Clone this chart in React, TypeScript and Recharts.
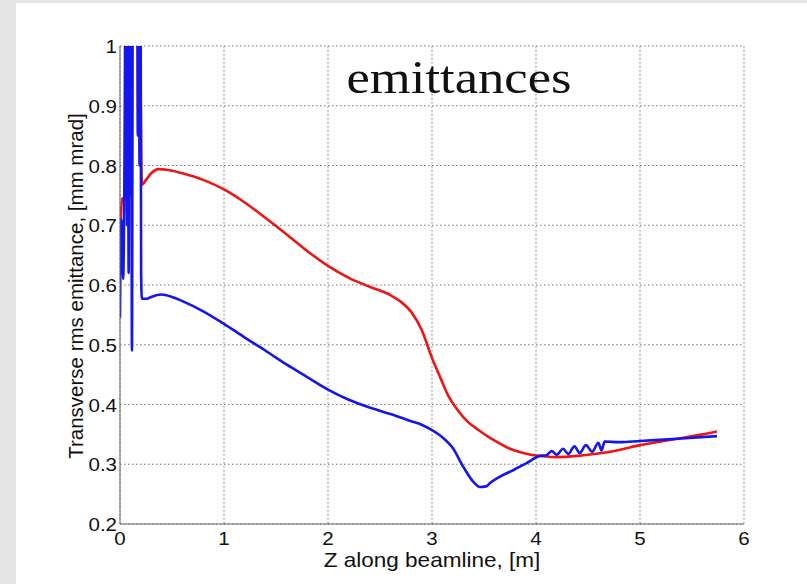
import React from "react";
import { LineChart, Line, XAxis, YAxis, CartesianGrid } from "recharts";

const redZ = [0, 0.01, 0.02, 0.04, 0.05, 0.065, 0.08, 0.095, 0.105, 0.115, 0.165, 0.175, 0.185, 0.2, 0.21, 0.25, 0.3, 0.37, 0.45, 0.6, 0.8, 1.0, 1.2, 1.4, 1.6, 1.8, 2.0, 2.2, 2.4, 2.6, 2.7, 2.8, 2.9, 3.0, 3.08, 3.15, 3.25, 3.35, 3.45, 3.55, 3.65, 3.75, 3.85, 3.95, 4.05, 4.2, 4.4, 4.6, 4.8, 5.0, 5.2, 5.4, 5.6, 5.74];
const redE = [0.655, 0.72, 0.745, 0.745, 0.8, 1.3, 0.86, 1.3, 0.87, 1.3, 1.3, 0.85, 1.3, 0.9, 0.768, 0.776, 0.787, 0.794, 0.793, 0.787, 0.776, 0.76, 0.738, 0.712, 0.685, 0.657, 0.632, 0.612, 0.597, 0.583, 0.572, 0.555, 0.525, 0.478, 0.445, 0.417, 0.39, 0.37, 0.357, 0.345, 0.335, 0.326, 0.32, 0.316, 0.314, 0.312, 0.314, 0.318, 0.324, 0.332, 0.338, 0.344, 0.35, 0.355];

const blueZ = [0, 0.01, 0.02, 0.03, 0.04, 0.06, 0.068, 0.075, 0.083, 0.09, 0.098, 0.105, 0.115, 0.125, 0.165, 0.172, 0.18, 0.188, 0.196, 0.203, 0.21, 0.26, 0.3, 0.4, 0.5, 0.6, 0.8, 1.0, 1.2, 1.4, 1.6, 1.8, 2.0, 2.2, 2.4, 2.6, 2.8, 2.9, 3.0, 3.1, 3.2, 3.3, 3.4, 3.46, 3.52, 3.56, 3.65, 3.78, 3.91, 4.04, 4.1, 4.15, 4.2, 4.26, 4.31, 4.37, 4.42, 4.48, 4.54, 4.6, 4.63, 4.66, 4.8, 5.0, 5.4, 5.74];
const blueE = [0.545, 0.71, 0.7, 0.61, 0.72, 1.3, 0.7, 1.3, 0.62, 1.3, 0.75, 1.3, 0.49, 1.3, 1.3, 0.85, 1.3, 0.8, 1.3, 0.62, 0.577, 0.577, 0.58, 0.584, 0.58, 0.573, 0.556, 0.535, 0.512, 0.49, 0.467, 0.446, 0.425, 0.408, 0.395, 0.384, 0.372, 0.366, 0.357, 0.345, 0.327, 0.296, 0.27, 0.262, 0.263, 0.269, 0.279, 0.29, 0.302, 0.314, 0.315, 0.322, 0.316, 0.326, 0.317, 0.33, 0.319, 0.332, 0.321, 0.336, 0.323, 0.338, 0.337, 0.339, 0.343, 0.347];

const xTicks = [0, 1, 2, 3, 4, 5, 6];
const yTicks = [0.2, 0.3, 0.4, 0.5, 0.6, 0.7, 0.8, 0.9, 1];
const yTickLabels = ["0.2", "0.3", "0.4", "0.5", "0.6", "0.7", "0.8", "0.9", "1"];

const title = "emittances";
const xLabel = "Z along beamline, [m]";
const yLabel = "Transverse rms emittance, [mm mrad]";

const redData = redZ.map((z, i) => ({ z, e: redE[i] }));
const blueData = blueZ.map((z, i) => ({ z, e: blueE[i] }));

const FONT = "'Liberation Sans', Arial, Helvetica, sans-serif";
const SX = 1.08;

const XTick = (props: any) => {
  const { x, y, payload } = props;
  return (
    <text transform={`translate(${x},${y + 21}) scale(${SX},1)`} textAnchor="middle" fontFamily={FONT} fontSize={19} fill="#111">
      {String(payload.value)}
    </text>
  );
};

const YTick = (props: any) => {
  const { x, y, payload } = props;
  const idx = yTicks.findIndex((t) => Math.abs(t - payload.value) < 1e-6);
  const label = idx >= 0 ? yTickLabels[idx] : String(payload.value);
  return (
    <text transform={`translate(${x - 3},${y + 7}) scale(${SX},1)`} textAnchor="end" fontFamily={FONT} fontSize={19} fill="#111">
      {label}
    </text>
  );
};

export default function App() {
  return (
    <div style={{ position: "absolute", left: 0, top: 0, width: 807, height: 584, background: "#e4e4e4", overflow: "hidden" }}>
      <div style={{ position: "absolute", left: 16, top: 3, width: 791, height: 581, background: "#ffffff" }} />
      <div style={{ position: "absolute", left: 0, top: 0 }}>
        <LineChart width={807} height={584} margin={{ top: 46, right: 63, bottom: 0, left: 0 }}>
          <CartesianGrid stroke="#777" strokeDasharray="1.5 2.5" strokeWidth={1} />
          <XAxis
            type="number"
            dataKey="z"
            domain={[0, 6]}
            ticks={xTicks}
            allowDataOverflow
            height={60}
            tickLine={false}
            tickSize={0}
            tickMargin={0}
            axisLine={{ stroke: "#666", strokeWidth: 1 }}
            tick={<XTick />}
            interval={0}
          />
          <YAxis
            type="number"
            dataKey="e"
            domain={[0.2, 1]}
            ticks={yTicks}
            allowDataOverflow
            width={120}
            tickLine={false}
            tickSize={0}
            tickMargin={0}
            axisLine={{ stroke: "#666", strokeWidth: 1 }}
            tick={<YTick />}
            interval={0}
          />
          <Line data={redData} dataKey="e" type="monotone" stroke="#ee1515" strokeWidth={2.6} dot={false} isAnimationActive={false} />
          <Line data={blueData} dataKey="e" type="monotone" stroke="#1515ee" strokeWidth={2.6} dot={false} isAnimationActive={false} />
          <text transform={`translate(459,93) scale(1.12,1)`} textAnchor="middle" fontFamily="'Liberation Serif', 'Times New Roman', serif" fontSize={47} fill="#111">
            {title}
          </text>
          <text transform={`translate(432,567) scale(1.1,1)`} textAnchor="middle" fontFamily={FONT} fontSize={20.5} fill="#111">
            {xLabel}
          </text>
          <text transform={`translate(83,286) rotate(-90)`} textAnchor="middle" fontFamily={FONT} fontSize={20.5} fill="#111">
            {yLabel}
          </text>
        </LineChart>
      </div>
    </div>
  );
}
